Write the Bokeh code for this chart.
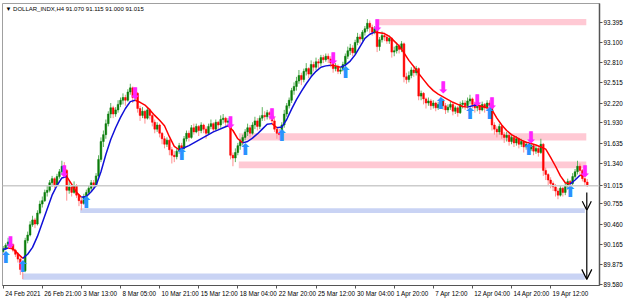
import numpy as np
from bokeh.plotting import figure
from bokeh.models import Range1d, FixedTicker, NumeralTickFormatter, Span, Label, Arrow, OpenHead, LinearAxis
from bokeh.core.properties import value
from bokeh.embed import file_html
from bokeh.resources import INLINE

SYMBOL = "DOLLAR_INDX,H4"
FIRST_OPEN = 90.06
CLOSE = [
    90.10, 90.15, 90.20, 90.16, 90.08, 90.02, 89.95, 89.80, 89.78, 90.22,
    90.30, 90.45, 90.52, 90.46, 90.62, 90.75, 90.80, 90.92, 90.95, 91.06,
    91.12, 91.03, 91.15, 91.22, 91.30, 91.24, 90.95, 91.00, 90.92, 91.02,
    90.88, 90.80, 90.76, 90.86, 90.92, 90.98, 91.06, 91.02, 91.16, 91.40,
    91.66, 91.76, 91.92, 92.06, 92.15, 92.06, 92.12, 92.20, 92.26, 92.30,
    92.26, 92.38, 92.44, 92.30, 92.36, 92.14, 92.04, 92.10, 92.00, 92.12,
    92.04, 91.94, 91.84, 91.90, 91.78, 91.70, 91.62, 91.68, 91.54, 91.46,
    91.44, 91.52, 91.60, 91.56, 91.70, 91.78, 91.72, 91.86, 91.80, 91.88,
    91.82, 91.90, 91.84, 91.78, 91.88, 91.92, 91.84, 91.94, 91.90, 91.98,
    92.00, 91.94, 91.96, 91.46, 91.42, 91.50, 91.60, 91.66, 91.72, 91.80,
    91.86, 91.78, 91.90, 91.96, 91.88, 92.00, 92.04, 92.02, 92.08, 92.05,
    91.96, 91.84, 91.78, 91.76, 91.90, 92.06, 92.18, 92.26, 92.40, 92.46,
    92.54, 92.62, 92.56, 92.68, 92.72, 92.64, 92.78, 92.74, 92.82, 92.80,
    92.88, 92.85, 92.90, 92.86, 92.80, 92.72, 92.75, 92.68, 92.70, 92.78,
    92.90, 92.98, 93.02, 92.95, 93.10, 93.18, 93.15, 93.25, 93.30, 93.38,
    93.32, 93.25, 93.30, 93.04, 93.14, 93.20, 93.18, 93.12, 93.16, 92.96,
    92.98, 93.05, 93.00, 93.08, 92.60, 92.56, 92.62, 92.70, 92.66, 92.72,
    92.32, 92.36, 92.28, 92.22, 92.25, 92.18, 92.22, 92.15, 92.20, 92.26,
    92.18, 92.12, 92.16, 92.20, 92.10, 92.15, 92.08, 92.20, 92.22, 92.18,
    92.25, 92.28, 92.20, 92.15, 92.18, 92.12, 92.20, 92.15, 92.22, 92.18,
    91.90, 91.84, 91.80, 91.88, 91.76, 91.72, 91.75, 91.66, 91.72, 91.64,
    91.70, 91.62, 91.66, 91.58, 91.62, 91.55, 91.60, 91.52, 91.56, 91.50,
    91.62, 91.24, 91.18, 91.10, 91.05, 91.00, 90.94, 90.88, 90.98, 90.92,
    91.02, 91.08, 91.05, 91.15, 91.22, 91.30, 91.24, 91.12, 91.07, 91.015,
]
HIGH = [
    90.14, 90.18, 90.26, 90.22, 90.18, 90.10, 90.05, 89.97, 89.86, 90.26,
    90.35, 90.50, 90.58, 90.55, 90.66, 90.80, 90.86, 90.96, 91.02, 91.10,
    91.16, 91.14, 91.19, 91.26, 91.38, 91.36, 91.26, 91.10, 91.04, 91.08,
    91.04, 90.90, 90.84, 90.90, 90.96, 91.02, 91.10, 91.10, 91.20, 91.46,
    91.72, 91.82, 91.98, 92.10, 92.22, 92.18, 92.16, 92.26, 92.30, 92.36,
    92.34, 92.42, 92.50, 92.46, 92.42, 92.38, 92.18, 92.16, 92.12, 92.16,
    92.14, 92.06, 91.98, 91.94, 91.92, 91.80, 91.74, 91.72, 91.70, 91.58,
    91.52, 91.56, 91.64, 91.64, 91.74, 91.82, 91.82, 91.90, 91.92, 91.92,
    91.90, 91.94, 91.92, 91.88, 91.92, 91.98, 91.94, 91.98, 91.96, 92.04,
    92.06, 92.02, 92.00, 91.98, 91.50, 91.56, 91.64, 91.70, 91.76, 91.84,
    91.92, 91.90, 91.94, 92.02, 92.00, 92.04, 92.16, 92.10, 92.12, 92.10,
    92.08, 92.00, 91.88, 91.84, 91.94, 92.12, 92.22, 92.30, 92.44, 92.52,
    92.60, 92.70, 92.66, 92.72, 92.80, 92.74, 92.84, 92.82, 92.88, 92.86,
    92.92, 92.92, 92.94, 92.94, 92.90, 92.84, 92.80, 92.78, 92.74, 92.82,
    92.94, 93.04, 93.08, 93.06, 93.14, 93.24, 93.22, 93.28, 93.34, 93.44,
    93.42, 93.36, 93.34, 93.32, 93.18, 93.26, 93.24, 93.22, 93.20, 93.18,
    93.04, 93.10, 93.08, 93.12, 93.10, 92.66, 92.68, 92.74, 92.74, 92.76,
    92.74, 92.40, 92.38, 92.30, 92.30, 92.28, 92.26, 92.24, 92.24, 92.30,
    92.28, 92.22, 92.20, 92.24, 92.22, 92.18, 92.18, 92.24, 92.26, 92.26,
    92.30, 92.34, 92.30, 92.24, 92.24, 92.20, 92.24, 92.22, 92.26, 92.26,
    92.20, 91.94, 91.88, 91.92, 91.90, 91.80, 91.80, 91.78, 91.76, 91.74,
    91.74, 91.72, 91.70, 91.68, 91.66, 91.66, 91.64, 91.62, 91.60, 91.58,
    91.70, 91.64, 91.28, 91.20, 91.14, 91.08, 91.04, 90.98, 91.02, 91.00,
    91.06, 91.12, 91.10, 91.20, 91.26, 91.38, 91.34, 91.26, 91.14, 91.115,
]
LOW = [
    90.04, 90.08, 90.12, 90.12, 90.05, 89.98, 89.90, 89.72, 89.66, 89.76,
    90.18, 90.28, 90.42, 90.40, 90.44, 90.60, 90.70, 90.78, 90.86, 90.92,
    91.00, 90.98, 91.01, 91.12, 91.18, 91.18, 90.80, 90.90, 90.86, 90.90,
    90.84, 90.72, 90.66, 90.74, 90.84, 90.88, 90.94, 90.96, 91.00, 91.14,
    91.36, 91.58, 91.70, 91.88, 92.00, 92.00, 92.02, 92.08, 92.16, 92.20,
    92.18, 92.24, 92.34, 92.22, 92.26, 92.08, 91.96, 92.00, 91.92, 91.98,
    91.98, 91.88, 91.78, 91.80, 91.72, 91.62, 91.56, 91.58, 91.46, 91.34,
    91.36, 91.40, 91.48, 91.50, 91.54, 91.66, 91.66, 91.70, 91.76, 91.78,
    91.74, 91.78, 91.78, 91.70, 91.76, 91.84, 91.80, 91.82, 91.84, 91.86,
    91.92, 91.88, 91.90, 91.40, 91.30, 91.36, 91.46, 91.54, 91.60, 91.68,
    91.74, 91.72, 91.76, 91.84, 91.82, 91.84, 91.96, 91.96, 91.98, 91.98,
    91.92, 91.80, 91.70, 91.68, 91.72, 91.86, 92.02, 92.14, 92.22, 92.34,
    92.40, 92.50, 92.48, 92.52, 92.62, 92.58, 92.60, 92.68, 92.70, 92.72,
    92.76, 92.80, 92.82, 92.80, 92.74, 92.66, 92.68, 92.64, 92.64, 92.68,
    92.74, 92.86, 92.92, 92.90, 92.92, 93.06, 93.08, 93.12, 93.20, 93.26,
    93.24, 93.20, 93.22, 92.96, 92.98, 93.10, 93.12, 93.08, 93.08, 92.88,
    92.90, 92.94, 92.94, 92.96, 92.52, 92.50, 92.52, 92.58, 92.60, 92.62,
    92.26, 92.26, 92.20, 92.14, 92.18, 92.12, 92.14, 92.10, 92.12, 92.16,
    92.12, 92.06, 92.08, 92.12, 92.04, 92.06, 92.02, 92.06, 92.14, 92.12,
    92.14, 92.20, 92.14, 92.08, 92.10, 92.06, 92.10, 92.08, 92.12, 92.10,
    91.82, 91.76, 91.72, 91.76, 91.70, 91.64, 91.66, 91.60, 91.62, 91.58,
    91.60, 91.56, 91.58, 91.50, 91.54, 91.48, 91.52, 91.46, 91.48, 91.44,
    91.48, 91.16, 91.10, 91.02, 90.98, 90.94, 90.86, 90.82, 90.86, 90.86,
    90.88, 90.96, 90.98, 91.02, 91.12, 91.18, 91.16, 91.08, 91.02, 91.00,
]
# trend line (sampled every MA_STEP bars)
MA_STEP = 2
MA = [
    90.09, 90.11, 90.10, 90.03, 89.96, 90.02, 90.12, 90.28, 90.48, 90.68,
    90.88, 91.02, 91.13, 91.15, 91.04, 90.92, 90.85, 90.86, 90.93, 91.02,
    91.22, 91.47, 91.69, 91.86, 92.01, 92.14, 92.24, 92.26, 92.23, 92.19,
    92.12, 92.04, 91.97, 91.89, 91.73, 91.59, 91.54, 91.57, 91.60, 91.64,
    91.68, 91.72, 91.76, 91.80, 91.83, 91.86, 91.89, 91.82, 91.70, 91.64,
    91.66, 91.71, 91.77, 91.84, 91.91, 91.92, 91.86, 91.87, 91.98, 92.13,
    92.27, 92.39, 92.50, 92.60, 92.68, 92.74, 92.76, 92.77, 92.76, 92.74,
    92.77, 92.83, 92.92, 93.04, 93.16, 93.22, 93.25, 93.24, 93.23, 93.19,
    93.12, 93.05, 92.95, 92.84, 92.75, 92.65, 92.56, 92.47, 92.40, 92.35,
    92.31, 92.27, 92.23, 92.20, 92.17, 92.16, 92.18, 92.19, 92.17, 92.15,
    92.12, 92.00, 91.90, 91.82, 91.76, 91.72, 91.68, 91.65, 91.63, 91.61,
    91.58, 91.55, 91.43, 91.30, 91.16, 91.06, 91.04, 91.10, 91.17, 91.16,
]
DOWN_BARS = [3, 25, 54, 93, 110, 135, 153, 180, 194, 200, 216, 238]
DOWN_PRICE = [90.19, 91.22, 92.36, 91.94, 92.05, 92.87, 93.35, 92.44, 92.26, 92.22, 91.72, 91.22]
UP_BARS = [1, 8, 34, 73, 99, 114, 140, 179, 191, 199, 215, 232]
UP_PRICE = [89.97, 89.84, 90.77, 91.47, 91.54, 91.75, 92.67, 92.22, 92.07, 92.07, 91.54, 90.94]

ZONE_START = [152.2, 96.4, 96.4, 31.5, 7.9]
ZONE_END = [238.6, 238.6, 238.6, 238.0, 238.0]
ZONE_TOP = [93.44, 91.78, 91.37, 90.69, 89.74]
ZONE_BOTTOM = [93.35, 91.675, 91.27, 90.62, 89.65]
ZONE_KIND = ["supply", "supply", "supply", "demand", "demand"]

TIME_TICKS = [0, 16, 32, 48, 64, 80, 96, 112, 128, 144, 160, 176, 192, 208, 224]
TIME_LABELS = ["24 Feb 2021", "26 Feb 21:00", "3 Mar 13:00", "8 Mar 05:00", "10 Mar 21:00",
               "15 Mar 12:00", "18 Mar 04:00", "22 Mar 20:00", "25 Mar 12:00", "30 Mar 04:00",
               "1 Apr 20:00", "7 Apr 12:00", "12 Apr 04:00", "14 Apr 20:00", "19 Apr 12:00"]
PRICE_TICKS = [89.580, 89.875, 90.165, 90.460, 90.755, 91.340, 91.635, 91.930,
               92.220, 92.515, 92.810, 93.100, 93.395]

TARGET_BAR = 238.8
TARGET_FROM = 90.92
TARGET_MID = 90.66
TARGET_TO = 89.655

X_START, X_END = -0.29, 244.0
Y_START, Y_END = 89.566, 93.667
FRAME_W, FRAME_H = 599.0, 283.0

n = len(CLOSE)
assert len(HIGH) == n and len(LOW) == n, (len(HIGH), len(LOW), n)
bars = np.arange(n)
close = np.array(CLOSE)
opens = np.array([FIRST_OPEN] + CLOSE[:-1])
high = np.maximum(np.array(HIGH), np.maximum(opens, close))
low = np.minimum(np.array(LOW), np.minimum(opens, close))
up = close >= opens

px_per_bar = FRAME_W / (X_END - X_START)
px_per_price = FRAME_H / (Y_END - Y_START)

FONT = "Liberation Sans"
AXIS_FS = 6.3

p = figure(width=625, height=299, x_range=Range1d(X_START, X_END), y_range=Range1d(Y_START, Y_END),
           output_backend="svg", toolbar_location=None, y_axis_location="right", x_axis_location=None,
           min_border_left=2, min_border_top=3, min_border_right=24, min_border_bottom=13)
p.background_fill_color = "white"
p.border_fill_color = "white"
p.outline_line_color = "#a0a0a0"
p.grid.visible = False

# zones
zone_colors = ["#ffc9d4" if k == "supply" else "#c9d3f4" for k in ZONE_KIND]
p.quad(left=ZONE_START, right=ZONE_END, top=ZONE_TOP, bottom=ZONE_BOTTOM,
       fill_color=zone_colors, line_color=None)

# last price line
p.add_layout(Span(location=CLOSE[-1], dimension="width", line_color="#cccccc", line_width=1.5))

# candles
wick_cols = np.where(up, "#5fb35f", "#ff8f8f")
body_cols = np.where(up, "#0b7d0b", "#ff0000")
p.segment(x0=bars, y0=low, x1=bars, y1=high, line_color=list(wick_cols), line_width=1)
p.vbar(x=bars, width=0.7, top=np.maximum(opens, close), bottom=np.minimum(opens, close),
       fill_color=list(body_cols), line_color=list(body_cols), line_width=0.5)

# trend line coloured by direction
ma = np.array(MA)
ma_x = np.arange(len(ma)) * MA_STEP
runs_x, runs_y, runs_c = [], [], []
start = 0
dirs = np.sign(np.diff(ma))
for i in range(1, len(dirs) + 1):
    if i == len(dirs) or dirs[i] != dirs[start]:
        runs_x.append(list(ma_x[start:i + 1]))
        runs_y.append(list(ma[start:i + 1]))
        runs_c.append("#1010d8" if dirs[start] > 0 else "#ff0000")
        start = i
p.multi_line(xs=runs_x, ys=runs_y, line_color=runs_c, line_width=1.5)

# signal arrows
p.text(x=DOWN_BARS, y=DOWN_PRICE, text=["\u2b07"] * len(DOWN_BARS), text_font=value("DejaVu Sans"),
       text_font_size="16px", text_color="#ff22ff", text_align="center", text_baseline="middle")
p.text(x=UP_BARS, y=UP_PRICE, text=["\u2b06"] * len(UP_BARS), text_font=value("DejaVu Sans"),
       text_font_size="16px", text_color="#2a92ff", text_align="center", text_baseline="middle")

# hand-drawn target arrows
p.add_layout(Arrow(x_start=TARGET_BAR, y_start=TARGET_FROM, x_end=TARGET_BAR, y_end=TARGET_MID,
                   line_color="black", line_width=1.2,
                   end=OpenHead(size=9, line_color="black", line_width=1.2)))
p.add_layout(Arrow(x_start=TARGET_BAR, y_start=TARGET_MID, x_end=TARGET_BAR, y_end=TARGET_TO,
                   line_color="black", line_width=1.2,
                   end=OpenHead(size=10, line_color="black", line_width=1.2)))

# time axis: tick marks at the bars, labels left-aligned to the ticks
tick_axis = LinearAxis(ticker=FixedTicker(ticks=TIME_TICKS),
                       major_label_overrides={t: "" for t in TIME_TICKS},
                       major_label_text_font_size="1px", major_label_standoff=0,
                       major_tick_out=3, major_tick_in=0, minor_tick_line_color=None,
                       axis_line_color="#555555", major_tick_line_color="#555555")
CHAR_EM = {" ": 0.278, ":": 0.278, "F": 0.611, "M": 0.833, "A": 0.667, "r": 0.333}
def label_width(s):
    return sum(CHAR_EM.get(ch, 0.556) for ch in s) * AXIS_FS
label_pos = [t + (2.0 + label_width(s) / 2.0) / px_per_bar for t, s in zip(TIME_TICKS, TIME_LABELS)]
label_axis = LinearAxis(ticker=FixedTicker(ticks=label_pos),
                        major_label_overrides={x: s for x, s in zip(label_pos, TIME_LABELS)},
                        major_label_text_font=FONT, major_label_text_font_size=f"{AXIS_FS}px",
                        major_label_text_color="black", major_label_standoff=1,
                        major_tick_out=0, major_tick_in=0, minor_tick_line_color=None,
                        axis_line_color=None, major_tick_line_color=None)
p.add_layout(tick_axis, "below")
p.add_layout(label_axis, "below")

# price axis, with the last price marked on it
ya = p.yaxis[0]
ya.ticker = FixedTicker(ticks=sorted(PRICE_TICKS + [CLOSE[-1]]))
ya.formatter = NumeralTickFormatter(format="0.000")
ya.major_label_text_font = FONT
ya.major_label_text_font_size = f"{AXIS_FS}px"
ya.major_label_standoff = 1
ya.major_tick_out = 3
ya.major_tick_in = 0
ya.minor_tick_line_color = None
ya.axis_line_color = "#555555"
ya.axis_line_width = 1.5
ya.major_tick_line_color = "#555555"
ya.major_label_text_color = "black"

# header
header = f"\u25bc {SYMBOL}  {opens[-1]:.3f} {high[-1]:.3f} {low[-1]:.3f} {close[-1]:.3f}"
p.add_layout(Label(x=X_START + 3 / px_per_bar, y=Y_END - 6 / px_per_price, text=header,
                   text_font=FONT, text_font_size="6px", text_color="black",
                   text_align="left", text_baseline="middle"))

open("out.html", "w").write(file_html(p, INLINE))
